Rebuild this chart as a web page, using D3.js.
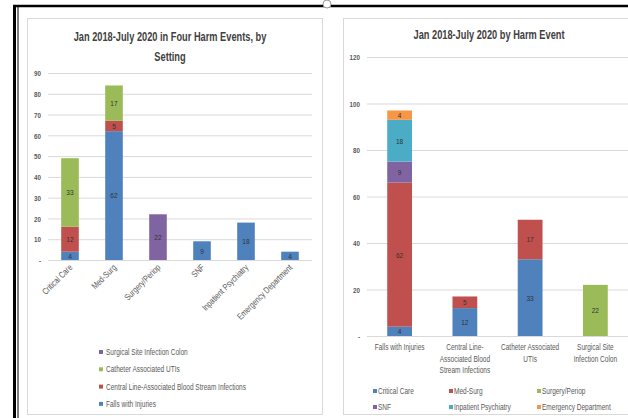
<!DOCTYPE html>
<html><head><meta charset="utf-8">
<script src="https://cdn.jsdelivr.net/npm/d3@7"></script>
<style>
html,body{margin:0;padding:0;background:#fff;overflow:hidden}
svg{display:block;font-family:"Liberation Sans",Arial,sans-serif}
</style></head><body>
<svg id="c" width="628" height="418"></svg>
<script>
// ---- data ----
const settings = ["Critical Care","Med-Surg","Surgery/Periop","SNF","Inpatient Psychiatry","Emergency Department"];
const events = ["Falls with Injuries","Central Line-Associated Blood Stream Infections","Catheter Associated UTIs","Surgical Site Infection Colon"];
const eventLabelLines = [["Falls with Injuries"],["Central Line-","Associated Blood","Stream Infections"],["Catheter Associated","UTIs"],["Surgical Site","Infection Colon"]];
const fallsWithInjuries = [4,62,0,9,18,4];
const centralLineBSI   = [12,5,0,0,0,0];
const catheterUTIs     = [33,17,0,0,0,0];
const surgicalSiteColon= [0,0,22,0,0,0];
const leftTicks = [0,10,20,30,40,50,60,70,80,90];
const rightTicks = [0,20,40,60,80,100,120];

const eventColors = ["#4F81BD","#C0504D","#9BBB59","#8064A2"];
const settingColors = ["#4F81BD","#C0504D","#9BBB59","#8064A2","#4BACC6","#F79646"];
const matrix = [fallsWithInjuries, centralLineBSI, catheterUTIs, surgicalSiteColon]; // [event][setting]

const svg = d3.select("#c");
const gridC = "#d9d9d9", txtC = "#595959", lblC = "#404040";

// narrow text helper (Calibri-like proportions)
function T(parent, x, y, str, o={}){
  const sx = o.sx ?? 0.8;
  return parent.append("text")
    .attr("transform",`translate(${x},${y})${o.rotate?` rotate(${o.rotate})`:""} scale(${sx},1)`)
    .attr("text-anchor",o.anchor||"start")
    .attr("font-size",o.size||8)
    .attr("font-weight",o.weight||"normal")
    .attr("fill",o.fill||txtC)
    .text(str);
}

// panels
svg.append("rect").attr("x",27.5).attr("y",18.5).attr("width",295).attr("height",396).attr("fill","#fff").attr("stroke",gridC);
svg.append("rect").attr("x",343.5).attr("y",18.5).attr("width",300).attr("height",396).attr("fill","#fff").attr("stroke",gridC);
// black frame
svg.append("line").attr("x1",13).attr("x2",628).attr("y1",6).attr("y2",6).attr("stroke","#000").attr("stroke-width",2.5);
svg.append("line").attr("x1",14.5).attr("x2",14.5).attr("y1",5).attr("y2",418).attr("stroke","#000").attr("stroke-width",3);
svg.append("line").attr("x1",18).attr("x2",18).attr("y1",6).attr("y2",418).attr("stroke","#000").attr("stroke-width",1);
svg.append("circle").attr("cx",327).attr("cy",4).attr("r",4).attr("fill","#fff").attr("stroke","#999");

// ---------- LEFT CHART ----------
{
  const x = d3.scaleBand().domain(settings).range([48,312]).paddingInner(0.6).paddingOuter(0.3);
  const y = d3.scaleLinear().domain([0,90]).range([260,73]);
  const g = svg.append("g");
  T(g,170,41,"Jan 2018-July 2020 in Four Harm Events, by",{anchor:"middle",size:12.5,weight:"bold",fill:"#404040",sx:0.74});
  T(g,170,61,"Setting",{anchor:"middle",size:12.5,weight:"bold",fill:"#404040",sx:0.74});
  const ag = g.append("g").attr("transform","translate(312,0)").call(d3.axisLeft(y).tickValues(leftTicks).tickSize(264).tickFormat(""));
  ag.select(".domain").remove();
  ag.selectAll("line").attr("stroke",gridC);
  const lg = g.append("g").attr("transform","translate(48,0)").call(d3.axisLeft(y).tickValues(leftTicks).tickSize(0).tickFormat(""));
  lg.select(".domain").remove();
  lg.selectAll(".tick").each(function(d){ T(d3.select(this),-7,2.7,d===0?"-":d,{anchor:"end",size:8,weight:"bold",sx:0.78}); });

  const data = settings.map((s,i)=>{const o={setting:s}; events.forEach((e,j)=>o[e]=matrix[j][i]); return o;});
  const series = d3.stack().keys(events)(data);
  series.forEach((ser,j)=>{
    ser.forEach(d=>{
      if(d[1]-d[0]<=0) return;
      g.append("rect").attr("x",x(d.data.setting)).attr("width",x.bandwidth())
        .attr("y",y(d[1])).attr("height",y(d[0])-y(d[1])).attr("fill",eventColors[j]);
      T(g,x(d.data.setting)+x.bandwidth()/2,(y(d[0])+y(d[1]))/2+2.9,d[1]-d[0],{anchor:"middle",size:8,fill:"#333",sx:0.82});
    });
  });
  settings.forEach(s=>{
    const cx = x(s)+x.bandwidth()/2+3;
    T(g,cx,268,s,{anchor:"end",size:9,rotate:-45,sx:0.78});
  });
  const legOrder = [3,2,1,0];
  legOrder.forEach((j,k)=>{
    const ly = 355 + k*17.3;
    g.append("rect").attr("x",99).attr("y",ly-5).attr("width",4).attr("height",4).attr("fill",eventColors[j]);
    T(g,106,ly,events[j],{size:8.8,sx:0.74});
  });
}

// ---------- RIGHT CHART ----------
{
  const x = d3.scaleBand().domain(events).range([367,628]).paddingInner(0.62).paddingOuter(0.31);
  const y = d3.scaleLinear().domain([0,120]).range([336,57]);
  const g = svg.append("g");
  T(g,489,39,"Jan 2018-July 2020 by Harm Event",{anchor:"middle",size:12.5,weight:"bold",fill:"#404040",sx:0.74});
  const ag = g.append("g").attr("transform","translate(628,0)").call(d3.axisLeft(y).tickValues(rightTicks).tickSize(261).tickFormat(""));
  ag.select(".domain").remove();
  ag.selectAll("line").attr("stroke",gridC);
  const lg = g.append("g").attr("transform","translate(367,0)").call(d3.axisLeft(y).tickValues(rightTicks).tickSize(0).tickFormat(""));
  lg.select(".domain").remove();
  lg.selectAll(".tick").each(function(d){ T(d3.select(this),-7,2.7,d===0?"-":d,{anchor:"end",size:8,weight:"bold",sx:0.78}); });

  const data = events.map((e,j)=>{const o={event:e}; settings.forEach((s,i)=>o[s]=matrix[j][i]); return o;});
  const series = d3.stack().keys(settings)(data);
  series.forEach((ser,i)=>{
    ser.forEach(d=>{
      if(d[1]-d[0]<=0) return;
      g.append("rect").attr("x",x(d.data.event)).attr("width",x.bandwidth())
        .attr("y",y(d[1])).attr("height",y(d[0])-y(d[1])).attr("fill",settingColors[i]);
      T(g,x(d.data.event)+x.bandwidth()/2,(y(d[0])+y(d[1]))/2+2.9,d[1]-d[0],{anchor:"middle",size:8,fill:"#333",sx:0.82});
    });
  });
  events.forEach((e,j)=>{
    const cx = x(e)+x.bandwidth()/2;
    eventLabelLines[j].forEach((ln,k)=>{
      T(g,cx,350+k*11.7,ln,{anchor:"middle",size:8.8,sx:0.74});
    });
  });
  const colX = [373,449,537];
  settings.forEach((s,i)=>{
    const lx = colX[i%3], ly = 394 + Math.floor(i/3)*16;
    g.append("rect").attr("x",lx).attr("y",ly-5).attr("width",4).attr("height",4).attr("fill",settingColors[i]);
    T(g,lx+5,ly,s,{size:8.8,sx:0.74});
  });
}
</script>
</body></html>
